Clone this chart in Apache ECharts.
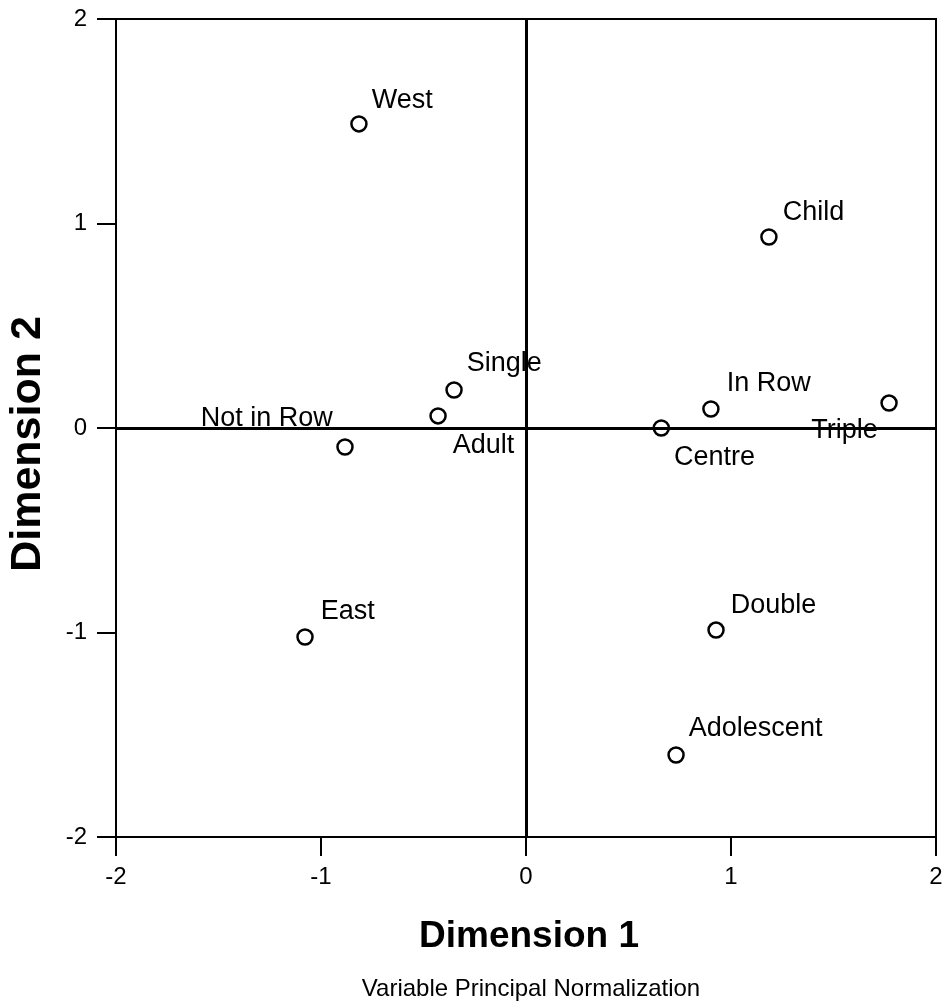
<!DOCTYPE html>
<html>
<head>
<meta charset="utf-8">
<script src="https://cdn.jsdelivr.net/npm/echarts@6/dist/echarts.min.js"></script>
<style>
html,body{margin:0;padding:0;background:#fff;}
#c{width:948px;height:1006px;}
</style>
</head>
<body>
<div id="c"></div>
<script>
// ---- data ----
var names = ['West', 'Child', 'Single', 'Adult', 'Not in Row', 'Centre', 'In Row', 'Triple', 'East', 'Double', 'Adolescent'];
var dim1  = [-0.815, 1.185, -0.351, -0.429, -0.883, 0.66, 0.902, 1.771, -1.078, 0.927, 0.732];
var dim2  = [1.487, 0.934, 0.186, 0.059, -0.093, 0.0, 0.093, 0.122, -1.022, -0.988, -1.599];
var tickValues = [-2, -1, 0, 1, 2];
var xAxisTitle = 'Dimension 1';
var yAxisTitle = 'Dimension 2';
var subTitle = 'Variable Principal Normalization';

// label placement (style only): [align, dx, dy]
var labelPlace = {
  'West': ['left', 14, -22],
  'Child': ['left', 15, -23],
  'Single': ['left', 14, -25],
  'Adult': ['left', 16, 31],
  'Not in Row': ['right', -11, -27],
  'Centre': ['left', 14, 31],
  'In Row': ['left', 17, -24],
  'Triple': ['right', -10, 29],
  'East': ['left', 17, -24],
  'Double': ['left', 16, -23],
  'Adolescent': ['left', 14, -25]
};

var FONT = '"Liberation Sans", Arial, sans-serif';
var SYM = 15;

var seriesData = names.map(function (n, i) {
  var p = labelPlace[n];
  return {
    name: n,
    value: [dim1[i], dim2[i]],
    label: {
      show: true,
      position: [SYM / 2, SYM / 2],
      align: p[0],
      verticalAlign: 'middle',
      offset: [p[1], p[2]],
      formatter: '{b}',
      color: '#000',
      opacity: 1,
      textBorderWidth: 0,
      fontSize: 27,
      fontFamily: FONT
    }
  };
});

var chart = echarts.init(document.getElementById('c'));
var axisCommon = {
  type: 'value',
  min: tickValues[0],
  max: tickValues[tickValues.length - 1],
  interval: 1,
  axisLine: { show: true, onZero: false, lineStyle: { color: '#000', width: 2 } },
  axisTick: { show: true, inside: false, length: 19, lineStyle: { color: '#000', width: 2 } },
  splitLine: { show: false },
  axisLabel: { color: '#000', fontSize: 24, fontFamily: FONT }
};

chart.setOption({
  backgroundColor: '#fff',
  animation: false,
  title: [
    { text: xAxisTitle, left: 524, top: 913, textAlign: 'center',
      textStyle: { fontSize: 37, fontWeight: 'bold', color: '#000', fontFamily: FONT } },
    { text: subTitle, left: 526, top: 972, textAlign: 'center',
      textStyle: { fontSize: 24, fontWeight: 'normal', color: '#000', fontFamily: FONT } }
  ],
  graphic: [{
    type: 'text',
    x: 28,
    y: 444,
    rotation: Math.PI / 2,
    style: {
      text: yAxisTitle,
      fill: '#000',
      font: 'bold 43px "Liberation Sans", Arial, sans-serif',
      textAlign: 'center',
      textVerticalAlign: 'middle'
    }
  }],
  grid: { left: 116, right: 12, top: 19, bottom: 169, show: true, borderColor: '#000', borderWidth: 2, backgroundColor: 'transparent' },
  xAxis: Object.assign({}, axisCommon, {
    position: 'bottom',
    axisLabel: Object.assign({}, axisCommon.axisLabel, { margin: 28 })
  }),
  yAxis: Object.assign({}, axisCommon, {
    position: 'left',
    axisLabel: Object.assign({}, axisCommon.axisLabel, { margin: 29 })
  }),
  series: [{
    type: 'scatter',
    symbol: 'circle',
    symbolSize: SYM,
    itemStyle: { color: 'rgba(255,255,255,0)', borderColor: '#000', borderWidth: 2.5, opacity: 1 },
    label: { show: true, color: '#000', fontSize: 27, fontFamily: FONT },
    data: seriesData,
    markLine: {
      silent: true,
      symbol: 'none',
      label: { show: false },
      lineStyle: { color: '#000', width: 3, type: 'solid' },
      data: [{ xAxis: 0 }, { yAxis: 0 }]
    }
  }]
});
</script>
</body>
</html>
